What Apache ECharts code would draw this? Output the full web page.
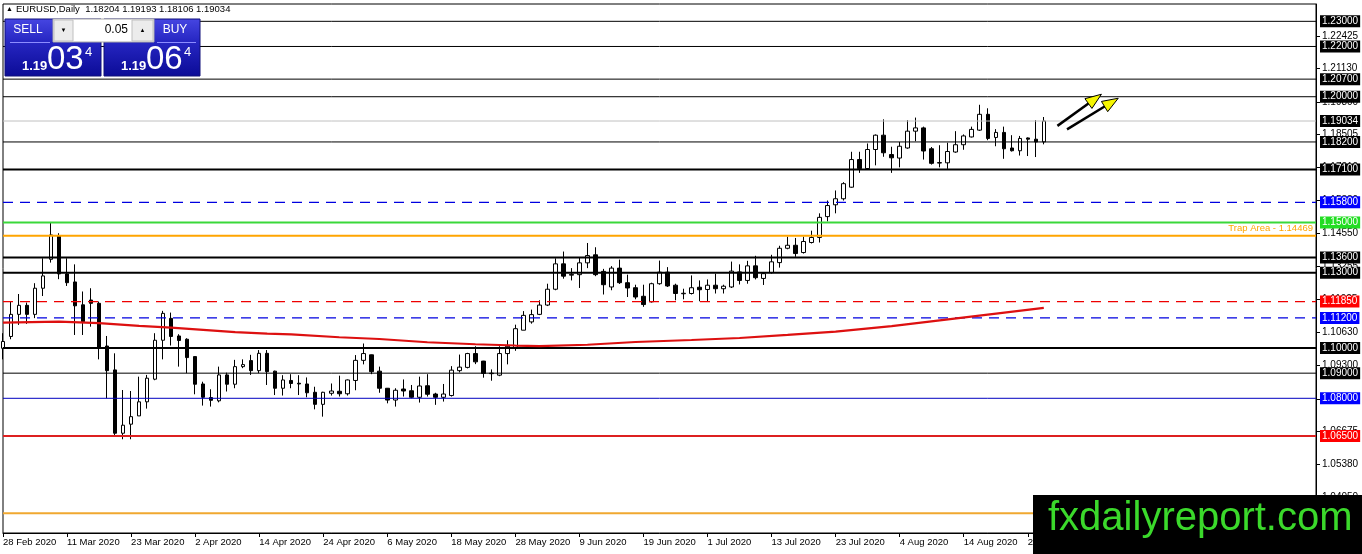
<!DOCTYPE html>
<html>
<head>
<meta charset="utf-8">
<title>EURUSD Daily</title>
<script src="https://cdn.jsdelivr.net/npm/echarts@6/dist/echarts.min.js"></script>
<style>
html, body { margin: 0; padding: 0; background: #fff; }
#chart { width: 1362px; height: 554px; }
</style>
</head>
<body>
<div id="chart"></div>
<script>
var FONT = "'Liberation Sans', 'DejaVu Sans', sans-serif";

var symbolName = 'EURUSD,Daily';
var firstDay = '2020-02-28';
var shiftBars = 34;   // empty space MT4 keeps right of the last bar

// daily bars: open, high, low, close
var ohlc = [
	[1.0999, 1.1059, 1.0955, 1.1026], [1.1046, 1.1185, 1.1035, 1.1134], [1.1134, 1.1215, 1.1092, 1.1170],
	[1.1170, 1.1181, 1.1096, 1.1134], [1.1134, 1.1258, 1.1119, 1.1238], [1.1238, 1.1357, 1.1207, 1.1287],
	[1.1353, 1.1499, 1.1340, 1.1450], [1.1446, 1.1457, 1.1274, 1.1295], [1.1295, 1.1357, 1.1247, 1.1260],
	[1.1263, 1.1333, 1.1052, 1.1168], [1.1172, 1.1225, 1.1052, 1.1105], [1.1191, 1.1238, 1.1085, 1.1178],
	[1.1178, 1.1185, 1.0955, 1.1002], [1.1008, 1.1048, 1.0800, 1.0910], [1.0913, 1.0979, 1.0654, 1.0661],
	[1.0661, 1.0833, 1.0637, 1.0693], [1.0697, 1.0829, 1.0637, 1.0727], [1.0730, 1.0886, 1.0730, 1.0786],
	[1.0786, 1.0893, 1.0759, 1.0880], [1.0876, 1.1059, 1.0872, 1.1031], [1.1031, 1.1148, 1.0955, 1.1138],
	[1.1118, 1.1141, 1.1010, 1.1046], [1.1048, 1.1055, 1.0926, 1.1030], [1.1035, 1.1039, 1.0900, 1.0962],
	[1.0966, 1.0966, 1.0816, 1.0856], [1.0857, 1.0866, 1.0771, 1.0804], [1.0803, 1.0836, 1.0767, 1.0792],
	[1.0790, 1.0926, 1.0784, 1.0893], [1.0893, 1.0902, 1.0827, 1.0856], [1.0856, 1.0953, 1.0840, 1.0926],
	[1.0926, 1.0955, 1.0920, 1.0934], [1.0950, 1.0973, 1.0893, 1.0910], [1.0910, 1.0992, 1.0900, 1.0979],
	[1.0979, 1.0992, 1.0853, 1.0906], [1.0908, 1.0910, 1.0813, 1.0840], [1.0840, 1.0892, 1.0811, 1.0873],
	[1.0871, 1.0896, 1.0840, 1.0859], [1.0860, 1.0892, 1.0813, 1.0857], [1.0857, 1.0883, 1.0804, 1.0822],
	[1.0824, 1.0846, 1.0756, 1.0776], [1.0776, 1.0826, 1.0727, 1.0824], [1.0820, 1.0859, 1.0811, 1.0829],
	[1.0828, 1.0890, 1.0807, 1.0818], [1.0818, 1.0875, 1.0811, 1.0873], [1.0871, 1.0972, 1.0832, 1.0951],
	[1.0951, 1.1018, 1.0935, 1.0978], [1.0973, 1.0974, 1.0896, 1.0906], [1.0908, 1.0926, 1.0822, 1.0840],
	[1.0840, 1.0841, 1.0780, 1.0793], [1.0793, 1.0840, 1.0767, 1.0832], [1.0837, 1.0875, 1.0807, 1.0829],
	[1.0830, 1.0853, 1.0800, 1.0804], [1.0804, 1.0886, 1.0783, 1.0849], [1.0850, 1.0896, 1.0807, 1.0816],
	[1.0817, 1.0822, 1.0774, 1.0804], [1.0804, 1.0857, 1.0787, 1.0817], [1.0811, 1.0928, 1.0807, 1.0912],
	[1.0910, 1.0974, 1.0903, 1.0924], [1.0923, 1.0981, 1.0919, 1.0978], [1.0978, 1.1007, 1.0936, 1.0945],
	[1.0948, 1.0949, 1.0882, 1.0899], [1.0898, 1.0915, 1.0870, 1.0900], [1.0892, 1.1007, 1.0888, 1.0978],
	[1.0978, 1.1031, 1.0935, 1.1007], [1.1002, 1.1093, 1.0989, 1.1077], [1.1071, 1.1147, 1.1071, 1.1130],
	[1.1104, 1.1153, 1.1097, 1.1133], [1.1134, 1.1190, 1.1131, 1.1171], [1.1171, 1.1256, 1.1167, 1.1234],
	[1.1234, 1.1357, 1.1230, 1.1335], [1.1335, 1.1384, 1.1276, 1.1286], [1.1290, 1.1318, 1.1269, 1.1293],
	[1.1292, 1.1361, 1.1239, 1.1339], [1.1339, 1.1418, 1.1318, 1.1368], [1.1371, 1.1401, 1.1286, 1.1292],
	[1.1305, 1.1315, 1.1213, 1.1252], [1.1243, 1.1326, 1.1230, 1.1318], [1.1318, 1.1352, 1.1255, 1.1260],
	[1.1260, 1.1292, 1.1203, 1.1239], [1.1240, 1.1252, 1.1194, 1.1203], [1.1206, 1.1252, 1.1164, 1.1173],
	[1.1184, 1.1260, 1.1181, 1.1256], [1.1256, 1.1348, 1.1252, 1.1302], [1.1302, 1.1322, 1.1243, 1.1247],
	[1.1250, 1.1256, 1.1190, 1.1217], [1.1216, 1.1236, 1.1194, 1.1218], [1.1217, 1.1289, 1.1213, 1.1240],
	[1.1242, 1.1269, 1.1186, 1.1232], [1.1233, 1.1273, 1.1186, 1.1250], [1.1250, 1.1296, 1.1217, 1.1236],
	[1.1236, 1.1252, 1.1217, 1.1246], [1.1243, 1.1344, 1.1239, 1.1306], [1.1303, 1.1333, 1.1253, 1.1269],
	[1.1269, 1.1347, 1.1256, 1.1327], [1.1327, 1.1367, 1.1273, 1.1280], [1.1277, 1.1302, 1.1251, 1.1296],
	[1.1300, 1.1371, 1.1296, 1.1343], [1.1340, 1.1407, 1.1320, 1.1397], [1.1397, 1.1443, 1.1393, 1.1409],
	[1.1409, 1.1438, 1.1363, 1.1376], [1.1380, 1.1443, 1.1376, 1.1424], [1.1420, 1.1467, 1.1416, 1.1440],
	[1.1440, 1.1536, 1.1420, 1.1520], [1.1523, 1.1587, 1.1504, 1.1567], [1.1570, 1.1627, 1.1536, 1.1594],
	[1.1594, 1.1660, 1.1587, 1.1654], [1.1640, 1.1781, 1.1638, 1.1750], [1.1750, 1.1781, 1.1697, 1.1714],
	[1.1714, 1.1814, 1.1710, 1.1790], [1.1790, 1.1850, 1.1727, 1.1847], [1.1847, 1.1910, 1.1761, 1.1777],
	[1.1770, 1.1801, 1.1697, 1.1757], [1.1756, 1.1820, 1.1719, 1.1803], [1.1796, 1.1907, 1.1793, 1.1863],
	[1.1863, 1.1917, 1.1823, 1.1876], [1.1876, 1.1881, 1.1750, 1.1784], [1.1793, 1.1800, 1.1730, 1.1735],
	[1.1736, 1.1807, 1.1719, 1.1738], [1.1737, 1.1817, 1.1713, 1.1782], [1.1780, 1.1863, 1.1777, 1.1809],
	[1.1809, 1.1850, 1.1789, 1.1844], [1.1840, 1.1881, 1.1838, 1.1870], [1.1867, 1.1968, 1.1864, 1.1930],
	[1.1930, 1.1954, 1.1827, 1.1834], [1.1838, 1.1871, 1.1803, 1.1858], [1.1858, 1.1881, 1.1753, 1.1793],
	[1.1796, 1.1847, 1.1782, 1.1785], [1.1785, 1.1844, 1.1766, 1.1834], [1.1836, 1.1838, 1.1764, 1.1831],
	[1.1831, 1.1907, 1.1760, 1.1820], [1.18204, 1.19193, 1.18106, 1.19034]
];

// moving average read at some bars: [bar index, value]
var maPoints = [
	[0, 1.1101], [7, 1.1105], [12, 1.1099], [17, 1.1088], [21, 1.1081], [25, 1.1072],
	[29, 1.1063], [33, 1.1057], [36, 1.1054], [42, 1.1043], [47, 1.1036], [53, 1.1023],
	[59, 1.1015], [64, 1.1010], [67, 1.1008], [73, 1.1013], [79, 1.1024], [86, 1.1032],
	[92, 1.1040], [98, 1.1052], [104, 1.1065], [111, 1.1087], [117, 1.1110], [123, 1.1133],
	[130, 1.1160]
];

// horizontal levels drawn on the chart
var levelPrices = [1.23, 1.22, 1.207, 1.20, 1.19034, 1.182, 1.171, 1.158, 1.15, 1.14469,
	1.136, 1.13, 1.1185, 1.112, 1.10, 1.09, 1.08, 1.065, 1.0343];
var levelKinds = ['thin', 'thin', 'thin', 'thin', 'bid', 'thin', 'thick', 'blueDash', 'green', 'trap',
	'thick', 'thick', 'redDash', 'blueDash', 'thick', 'thin', 'blue', 'red', 'orange'];
var trapName = 'Trap Area';

// grey price scale labels on the right
var priceTicks = [1.22425, 1.21130, 1.19800, 1.18505, 1.17210, 1.15880, 1.14550, 1.13255,
	1.11925, 1.10630, 1.09300, 1.07970, 1.06675, 1.05380, 1.04050];

var bidPrice = '1.19034';
var askPrice = '1.19064';
var lotSize = '0.05';

// the two arrows drawn by hand: [from, to] as [bar index, price]
var arrows = [
	[[131.7, 1.1884], [137.2, 1.2010]],
	[[132.9, 1.1870], [139.3, 1.1994]]
];

var monthNames = ['Jan', 'Feb', 'Mar', 'Apr', 'May', 'Jun', 'Jul', 'Aug', 'Sep', 'Oct', 'Nov', 'Dec'];

// weekday dates starting from firstDay, one per bar
function tradingDays(start, n) {
	var out = [];
	var d = new Date(start + 'T00:00:00Z');
	while (out.length < n) {
		var wd = d.getUTCDay();
		if (wd != 0 && wd != 6) {
			out.push(d.getUTCDate() + ' ' + monthNames[d.getUTCMonth()] + ' ' + d.getUTCFullYear());
		}
		d.setUTCDate(d.getUTCDate() + 1);
	}
	return out;
}

var dates = tradingDays(firstDay, ohlc.length);
var axisDates = dates.slice();
for (var i = 1; i <= shiftBars; i++) {
	axisDates.push('+' + i);
}
var lastSlot = axisDates.length - 1;

var levelStyles = {
	thin:     { line: { color: '#000000', width: 1, type: 'solid' }, box: '#000000' },
	thick:    { line: { color: '#000000', width: 2, type: 'solid' }, box: '#000000' },
	bid:      { line: { color: '#c0c0c0', width: 1, type: 'solid' }, box: '#000000' },
	blueDash: { line: { color: '#0000e0', width: 1.2, type: [10, 7] }, box: '#0000ff' },
	green:    { line: { color: '#3ad83a', width: 2, type: 'solid' }, box: '#22dd22' },
	trap:     { line: { color: '#ffa500', width: 2, type: 'solid' }, box: null },
	redDash:  { line: { color: '#ee0000', width: 1.2, type: [10, 7] }, box: '#ff0000' },
	blue:     { line: { color: '#0000c0', width: 1, type: 'solid' }, box: '#0000ff' },
	red:      { line: { color: '#dd2020', width: 2, type: 'solid' }, box: '#ff0000' },
	orange:   { line: { color: '#f0a830', width: 2, type: 'solid' }, box: null }
};

// one flat line series per level, its price box drawn as the end label
function levelSeries() {
	var out = [];
	for (var i = 0; i < levelPrices.length; i++) {
		var st = levelStyles[levelKinds[i]];
		var price = levelPrices[i];
		var label;
		if (levelKinds[i] == 'trap') {
			label = {
				show: true, distance: 0, align: 'right', offset: [-3, -7],
				formatter: trapName + ' - ' + price.toFixed(5),
				color: '#ffa500', fontSize: 9.5, fontFamily: FONT
			};
		} else if (st.box) {
			label = {
				show: true, distance: 4,
				formatter: price.toFixed(5),
				color: '#ffffff', backgroundColor: st.box,
				padding: [1, 2, 0, 2], lineHeight: 11,
				fontSize: 10, fontFamily: FONT
			};
		} else {
			label = { show: false };
		}
		out.push({
			type: 'line',
			data: [[0, price], [lastSlot, price]],
			showSymbol: false,
			symbol: 'none',
			silent: true,
			clip: false,
			lineStyle: st.line,
			endLabel: label,
			z: 4
		});
	}
	return out;
}

var chart = echarts.init(document.getElementById('chart'));

var option = {
	animation: false,
	backgroundColor: '#ffffff',
	grid: { left: 3, right: 46, top: 4, bottom: 21, show: true, borderColor: '#000', borderWidth: 1 },
	xAxis: {
		type: 'category',
		data: axisDates,
		boundaryGap: false,
		axisLine: { lineStyle: { color: '#000', width: 1 } },
		axisTick: { interval: 7, length: 4, lineStyle: { color: '#000' } },
		axisLabel: {
			interval: 7, align: 'left', margin: 4,
			color: '#000', fontSize: 9.5, fontFamily: FONT,
			formatter: function(v) { return v.charAt(0) == '+' ? '' : v; }
		},
		splitLine: { show: false }
	},
	yAxis: {
		type: 'value',
		position: 'right',
		min: 1.0264,
		max: 1.2369,
		axisLine: { show: true, lineStyle: { color: '#000', width: 1 } },
		axisTick: { show: true, customValues: priceTicks, length: 4, lineStyle: { color: '#000' } },
		axisLabel: {
			customValues: priceTicks, margin: 6,
			color: '#000', fontSize: 10, fontFamily: FONT,
			formatter: function(v) { return v.toFixed(5); }
		},
		splitLine: { show: false }
	},
	series: [{
		type: 'candlestick',
		data: ohlc.map(function(r) { return [r[0], r[3], r[2], r[1]]; }),
		barWidth: 4,
		itemStyle: {
			color: '#ffffff', color0: '#000000',
			borderColor: '#000000', borderColor0: '#000000', borderWidth: 1
		},
		z: 2
	}, {
		type: 'line',
		data: maPoints,
		showSymbol: false,
		symbol: 'none',
		silent: true,
		lineStyle: { color: '#dd1010', width: 2.2 },
		z: 5
	}].concat(levelSeries())
};

chart.setOption(option);

// pixel position of [bar index, price], bar index may be fractional
function toPixel(pt) {
	var base = Math.floor(pt[0]);
	var a = chart.convertToPixel({ gridIndex: 0 }, [base, pt[1]]);
	var b = chart.convertToPixel({ gridIndex: 0 }, [base + 1, pt[1]]);
	return [a[0] + (b[0] - a[0]) * (pt[0] - base), a[1]];
}

function arrowElements() {
	var els = [];
	arrows.forEach(function(ar) {
		var p0 = toPixel(ar[0]);
		var p1 = toPixel(ar[1]);
		var dx = p1[0] - p0[0], dy = p1[1] - p0[1];
		var len = Math.sqrt(dx * dx + dy * dy);
		var ux = dx / len, uy = dy / len;
		var headLen = 16, half = 6;
		var bx = p1[0] - ux * headLen, by = p1[1] - uy * headLen;
		els.push({
			type: 'polyline', z: 50,
			shape: { points: [p0, [bx, by]] },
			style: { stroke: '#000', lineWidth: 2.5, fill: null }
		});
		els.push({
			type: 'polygon', z: 51,
			shape: { points: [p1, [bx - uy * half, by + ux * half], [bx + uy * half, by - ux * half]] },
			style: { fill: '#f5f500', stroke: '#000', lineWidth: 1 }
		});
	});
	return els;
}

function txt(x, y, text, size, color, align, weight) {
	return {
		type: 'text', x: x, y: y, z: 120,
		style: {
			text: text, fill: color,
			font: (weight || 'normal') + ' ' + size + 'px ' + FONT,
			align: align || 'left', textAlign: align || 'left',
			verticalAlign: 'middle', textVerticalAlign: 'middle'
		}
	};
}

function tradeBox(x, title, price, titleX, sepX0, sepX1) {
	var big = price.substr(4, 2);
	var small = price.substr(6, 1);
	var head = price.substr(0, 4);
	return [
		{
			type: 'rect', z: 110,
			shape: { x: x, y: 19, width: 96, height: 57 },
			style: {
				fill: new echarts.graphic.LinearGradient(0, 0, 0, 1, [
					{ offset: 0, color: '#4646e2' },
					{ offset: 0.4, color: '#2626c2' },
					{ offset: 1, color: '#0b0b96' }
				]),
				stroke: '#10107a', lineWidth: 1
			}
		},
		{
			type: 'line', z: 111,
			shape: { x1: sepX0, y1: 42.5, x2: sepX1, y2: 42.5 },
			style: { stroke: '#8c8cff', lineWidth: 1 }
		},
		txt(titleX, 30, title, 12, '#ffffff', 'center'),
		txt(x + 17, 66, head, 13, '#ffffff', 'left', 'bold'),
		txt(x + 42, 60, big, 33, '#ffffff', 'left'),
		txt(x + 80, 52, small, 13, '#ffffff', 'left')
	];
}

function panelElements() {
	var last = ohlc[ohlc.length - 1];
	var els = [];
	els.push(txt(6, 9, '\u25B2', 7, '#000', 'left'));
	els.push(txt(16, 9, symbolName + '  ' + last.map(function(v) { return v.toFixed(5); }).join(' '), 9.5, '#000', 'left'));
	els = els.concat(tradeBox(5, 'SELL', bidPrice, 28, 10, 50));
	els = els.concat(tradeBox(104, 'BUY', askPrice, 175, 157, 196));
	// lot size control
	els.push({ type: 'rect', z: 115, shape: { x: 53, y: 19, width: 101, height: 23 },
		style: { fill: '#ffffff', stroke: '#a8a8a8', lineWidth: 1 } });
	els.push({ type: 'rect', z: 116, shape: { x: 54, y: 20, width: 19, height: 21 },
		style: { fill: '#ececec', stroke: '#c0c0c0', lineWidth: 1 } });
	els.push({ type: 'rect', z: 116, shape: { x: 132, y: 20, width: 21, height: 21 },
		style: { fill: '#ececec', stroke: '#c0c0c0', lineWidth: 1 } });
	els.push(txt(63.5, 30, '\u25BC', 6, '#000', 'center'));
	els.push(txt(142.5, 30, '\u25B2', 6, '#000', 'center'));
	els.push(txt(128, 30, lotSize, 12, '#000', 'right'));
	// watermark
	els.push({ type: 'rect', z: 130, shape: { x: 1033, y: 495, width: 329, height: 59 },
		style: { fill: '#000000' } });
	els.push({
		type: 'text', x: 1048, y: 519, z: 131,
		style: {
			text: 'fxdailyreport.com', fill: '#3bd92b',
			font: 'normal 40px ' + FONT,
			align: 'left', textAlign: 'left', verticalAlign: 'middle', textVerticalAlign: 'middle'
		}
	});
	return els;
}

chart.setOption({ graphic: { elements: arrowElements().concat(panelElements()) } });
</script>
</body>
</html>
